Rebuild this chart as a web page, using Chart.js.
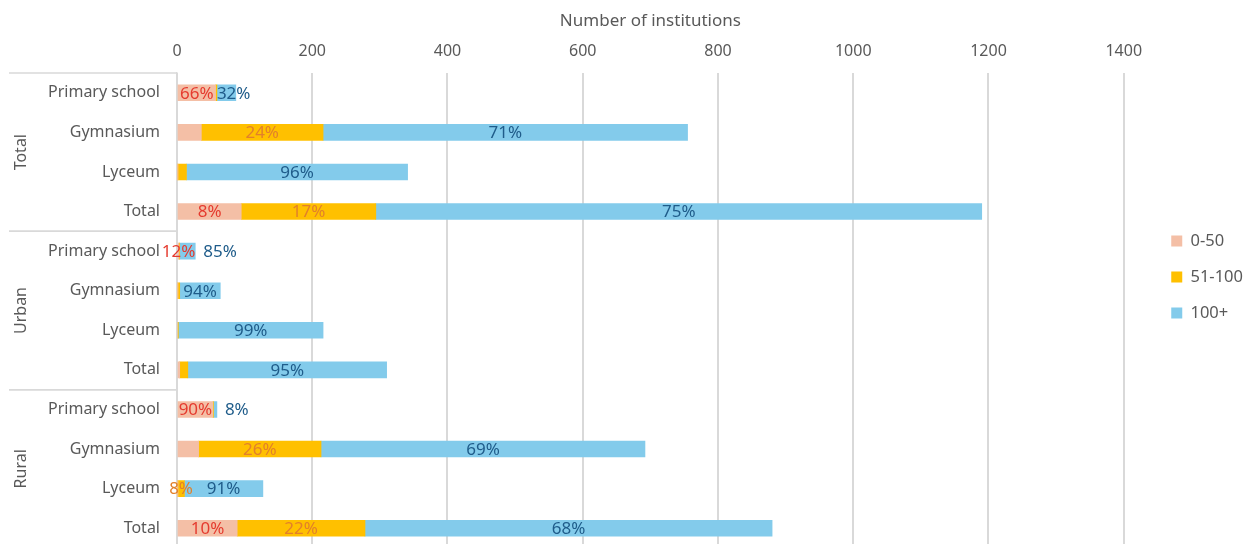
<!DOCTYPE html>
<html>
<head>
<meta charset="utf-8">
<title>Number of institutions</title>
<script src="https://cdn.jsdelivr.net/npm/chart.js@4.4.1/dist/chart.umd.min.js"></script>
<style>
  html, body { margin: 0; padding: 0; background: #fff; overflow: hidden; }
</style>
</head>
<body>
<canvas id="chart" width="1246" height="548"></canvas>
<script>
const groups = ["Total", "Urban", "Rural"];
const subCategories = ["Primary school", "Gymnasium", "Lyceum", "Total"];
const seriesNames = ["0-50", "51-100", "100+"];
const xTicks = [0, 200, 400, 600, 800, 1000, 1200, 1400];

// number of institutions per size band (Total group, Urban group, Rural group)
const small = [57, 36, 1, 95, 3, 1, 0, 4, 53, 32, 1, 89];
const medium = [2, 180, 13, 199, 1, 3, 2, 12, 1, 181, 10, 189];
const large = [28, 539, 327, 896, 23, 60, 214, 294, 5, 479, 116, 602];

// share labels as printed on the bars ("" = not shown)
const smallPct = ["66%", "", "", "8%", "12%", "", "", "", "90%", "", "", "10%"];
const mediumPct = ["", "24%", "", "17%", "", "", "", "", "", "26%", "8%", "22%"];
const largePct = ["32%", "71%", "96%", "75%", "85%", "94%", "99%", "95%", "8%", "69%", "91%", "68%"];

const barColors = ["#f4bfa6", "#ffc000", "#83cbeb"];
const labelColors = ["#e53b2f", "#e2802a", "#1f5c8a"];
const pctLabels = [smallPct, mediumPct, largePct];
const textColor = "#595959";
const lineColor = "#d9d9d9";
const fontFamily = '"Noto Sans", sans-serif';

const labels = groups.flatMap(() => subCategories);

// percentages drawn on / next to the bar segments
const barLabels = {
    id: "barLabels",
    afterDatasetsDraw(chart) {
        const ctx = chart.ctx;
        const lastIdx = chart.data.datasets.length - 1;
        ctx.save();
        ctx.font = "17px " + fontFamily;
        ctx.textBaseline = "middle";
        chart.data.datasets.forEach((ds, i) => {
            chart.getDatasetMeta(i).data.forEach((bar, j) => {
                let text = pctLabels[i][j];
                if (!text) return;
                let w = Math.abs(bar.x - bar.base);
                let tw = ctx.measureText(text).width;
                ctx.fillStyle = labelColors[i];
                if (i === lastIdx && w < tw * 0.55) {
                    // too narrow: put it after the bar
                    ctx.textAlign = "left";
                    ctx.fillText(text, bar.x + 8, bar.y + 1);
                } else if (i === lastIdx && w < tw) {
                    ctx.textAlign = "left";
                    ctx.fillText(text, bar.base, bar.y + 1);
                } else {
                    ctx.textAlign = "center";
                    ctx.fillText(text, (bar.x + bar.base) / 2, bar.y + 1);
                }
            });
        });
        ctx.restore();
    }
};

// second level of the category axis: group names and separators
const groupAxis = {
    id: "groupAxis",
    afterDraw(chart) {
        const y = chart.scales.y;
        const ctx = chart.ctx;
        const left = chart.chartArea.left;
        const half = (y.getPixelForValue(1) - y.getPixelForValue(0)) / 2;
        ctx.save();
        ctx.strokeStyle = lineColor;
        ctx.lineWidth = 1.5;
        ctx.fillStyle = textColor;
        ctx.font = "16px " + fontFamily;
        ctx.textAlign = "center";
        ctx.textBaseline = "middle";
        groups.forEach((g, gi) => {
            let first = gi * subCategories.length;
            let last = first + subCategories.length - 1;
            let top = y.getPixelForValue(first) - half;
            let bottom = y.getPixelForValue(last) + half;
            ctx.beginPath();
            ctx.moveTo(9, top);
            ctx.lineTo(left, top);
            ctx.moveTo(9, bottom);
            ctx.lineTo(left, bottom);
            ctx.stroke();
            ctx.save();
            ctx.translate(21, (top + bottom) / 2);
            ctx.rotate(-Math.PI / 2);
            ctx.fillText(g, 0, 0);
            ctx.restore();
        });
        ctx.restore();
    }
};

// push the legend a bit further right / down than the layout puts it
const legendShift = {
    id: "legendShift",
    afterLayout(chart) {
        chart.legend.left += 28;
        chart.legend.right += 28;
        chart.legend.top += 3;
        chart.legend.bottom += 3;
    }
};

new Chart(document.getElementById("chart"), {
    type: "bar",
    data: {
        labels: labels,
        datasets: [
            { label: seriesNames[0], data: small, backgroundColor: barColors[0], borderWidth: 0 },
            { label: seriesNames[1], data: medium, backgroundColor: barColors[1], borderWidth: 0 },
            { label: seriesNames[2], data: large, backgroundColor: barColors[2], borderWidth: 0 }
        ]
    },
    options: {
        indexAxis: "y",
        responsive: false,
        animation: false,
        barThickness: 16,
        layout: { padding: { left: 0, right: 21, top: 0, bottom: 0 } },
        scales: {
            x: {
                type: "linear",
                position: "top",
                stacked: true,
                min: 0,
                max: 1400,
                afterBuildTicks: (s) => { s.ticks = xTicks.map(v => ({ value: v })); },
                afterFit: (s) => { s.height = 73; },
                grid: { color: lineColor, lineWidth: 2, drawTicks: false },
                border: { display: false },
                ticks: {
                    color: textColor,
                    font: { family: fontFamily, size: 16 },
                    padding: 12,
                    callback: (v) => String(v)
                },
                title: {
                    display: true,
                    text: "Number of institutions",
                    color: textColor,
                    font: { family: fontFamily, size: 17 },
                    padding: { top: 11, bottom: 4 }
                }
            },
            y: {
                stacked: true,
                afterFit: (s) => {
                    s.width = 177;
                    s.paddingTop = 0;
                    s.paddingBottom = 0;
                },
                grid: { display: false, drawTicks: false },
                border: { display: true, color: lineColor, width: 1.5 },
                ticks: { color: textColor, font: { family: fontFamily, size: 16 }, padding: 17 }
            }
        },
        plugins: {
            legend: {
                position: "right",
                labels: {
                    color: textColor,
                    font: { family: fontFamily, size: 16.5 },
                    boxWidth: 11,
                    boxHeight: 11,
                    padding: 19.5
                }
            },
            tooltip: { enabled: false }
        }
    },
    plugins: [barLabels, groupAxis, legendShift]
});
</script>
</body>
</html>
